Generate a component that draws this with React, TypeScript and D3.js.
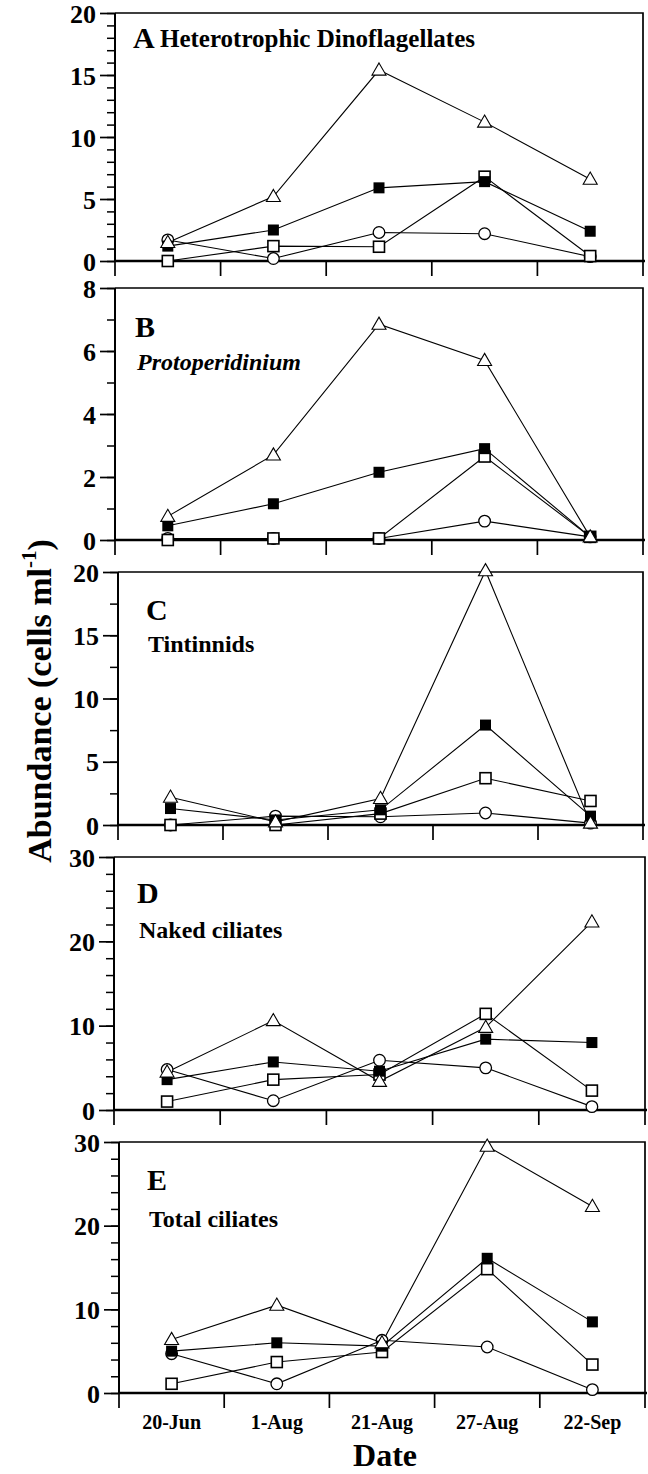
import React, { useEffect, useRef } from 'react';
import * as d3 from 'd3';

const dates = ['20-Jun', '1-Aug', '21-Aug', '27-Aug', '22-Sep'];

// A  heterotrophic dinoflagellates
const triA = [1.5, 5.2, 15.4, 11.2, 6.6];
const fillA = [1.2, 2.5, 5.9, 6.4, 2.4];
const openA = [0, 1.2, 1.15, 6.8, 0.4];
const circA = [1.7, 0.2, 2.3, 2.2, 0.35];

// B  Protoperidinium
const triB = [0.75, 2.7, 6.85, 5.7, 0.1];
const fillB = [0.45, 1.15, 2.15, 2.9, 0.1];
const openB = [0, 0.05, 0.05, 2.65, 0.1];
const circB = [0.05, 0.05, 0.05, 0.6, 0.1];

// C  tintinnids
const triC = [2.2, 0.25, 2.1, 20.1, 0.15];
const fillC = [1.3, 0.4, 1.2, 7.9, 0.7];
const openC = [0, 0, 0.9, 3.7, 1.9];
const circC = [0, 0.7, 0.65, 0.95, 0.15];

// D  naked ciliates
const triD = [4.5, 10.6, 3.4, 9.8, 22.3];
const fillD = [3.6, 5.7, 4.6, 8.4, 8.0];
const openD = [1.0, 3.6, 4.2, 11.4, 2.3];
const circD = [4.8, 1.1, 5.9, 5.0, 0.4];

// E  total ciliates
const triE = [6.4, 10.5, 6.0, 29.5, 22.3];
const fillE = [5.0, 6.0, 5.6, 16.1, 8.5];
const openE = [1.1, 3.7, 4.9, 14.8, 3.4];
const circE = [4.7, 1.1, 6.3, 5.5, 0.4];

const yMaxes = [20, 8, 20, 30, 30];
const yMajor = [5, 2, 5, 10, 10];
const yMinor = [1, 1, 2.5, 2, 2];
const letters = ['A', 'B', 'C', 'D', 'E'];
const titles = ['Heterotrophic Dinoflagellates', 'Protoperidinium', 'Tintinnids', 'Naked ciliates', 'Total ciliates'];

const W = 648;
const H = 1474;
const FONT = 'Liberation Serif, Times New Roman, serif';

// panel frames: [left, right, top, bottom]
const frames = [
	[115, 643, 13, 261],
	[115, 643, 288, 540],
	[118, 643, 572, 825],
	[114, 645, 857, 1110],
	[119, 645, 1142, 1393]
];
// label offsets from frame: [letter dx, letter dy, title dx, title dy]
const labelPos = [
	[18, 35, 45, 34],
	[20, 49, 22, 82],
	[28, 48, 30, 80],
	[23, 46, 25, 81],
	[28, 48, 30, 85]
];

const drawChart = (svgEl) => {
	const svg = d3.select(svgEl);
	svg.selectAll('*').remove();

	const panels = [
		[triA, fillA, openA, circA],
		[triB, fillB, openB, circB],
		[triC, fillC, openC, circC],
		[triD, fillD, openD, circD],
		[triE, fillE, openE, circE]
	];

	panels.forEach((series, i) => {
		const [l, r, t, b] = frames[i];
		const x = d3.scaleBand().domain(dates).range([l, r]).padding(0);
		const y = d3.scaleLinear().domain([0, yMaxes[i]]).range([b, t]);
		const g = svg.append('g');

		// box
		g.append('path')
			.attr('d', `M${ l },${ t }H${ r }V${ b }`)
			.attr('fill', 'none').attr('stroke', '#000').attr('stroke-width', 1.7);

		// y axis, minor ticks then major
		const minor = d3.range(0, yMaxes[i] + 0.001, yMinor[i]);
		const yMinorAxis = d3.axisLeft(y).tickValues(minor).tickSize(8).tickFormat(() => '');
		g.append('g').attr('transform', `translate(${ l },0)`).call(yMinorAxis)
			.call((s) => s.select('.domain').remove())
			.selectAll('line').attr('stroke-width', 1.5);
		const major = d3.range(0, yMaxes[i] + 0.001, yMajor[i]);
		const yAxis = d3.axisLeft(y).tickValues(major).tickSize(15).tickPadding(4).tickFormat(d3.format('d'));
		const ya = g.append('g').attr('transform', `translate(${ l },0)`).call(yAxis)
			.attr('font-family', FONT).attr('font-size', 26);
		ya.select('.domain').attr('d', `M0,${ b }V${ t }`).attr('stroke-width', 2);
		ya.selectAll('line').attr('stroke-width', 1.7);
		ya.selectAll('text')
			.style('font-family', FONT).style('font-weight', 'bold').style('font-size', '26px')
			.attr('fill', '#000').attr('dy', '0.35em');

		// x axis: ticks at band edges
		const xa = g.append('g').attr('transform', `translate(0,${ b })`);
		xa.append('line').attr('x1', l).attr('x2', r + 2).attr('y1', 0).attr('y2', 0)
			.attr('stroke', '#000').attr('stroke-width', 2.6);
		const edges = dates.map((d) => x(d)).concat([r]);
		xa.selectAll('line.tick').data(edges).enter()
			.append('line').attr('class', 'tick')
			.attr('x1', (d) => d).attr('x2', (d) => d)
			.attr('y1', 0).attr('y2', 15)
			.attr('stroke', '#000').attr('stroke-width', 1.7);
		if (i === 4) {
			xa.selectAll('text').data(dates).enter()
				.append('text')
				.attr('x', (d) => x(d) + x.bandwidth() / 2)
				.attr('y', 36)
				.attr('text-anchor', 'middle')
				.style('font-family', FONT).style('font-weight', 'bold').style('font-size', '20px')
				.text((d) => d);
		}

		// labels
		const [ldx, ldy, tdx, tdy] = labelPos[i];
		g.append('text').attr('x', l + ldx).attr('y', t + ldy)
			.style('font-family', FONT).style('font-weight', 'bold').style('font-size', '30px')
			.text(letters[i]);
		g.append('text')
			.attr('x', l + tdx)
			.attr('y', t + tdy)
			.style('font-family', FONT).style('font-weight', 'bold')
			.style('font-size', i === 0 ? '25px' : '24px')
			.style('font-style', i === 1 ? 'italic' : 'normal')
			.text(titles[i]);

		// lines
		const cx = (j) => x(dates[j]) + x.bandwidth() / 2;
		const line = d3.line().x((d, j) => cx(j)).y((d) => y(d));
		series.forEach((vals) => {
			g.append('path').attr('d', line(vals))
				.attr('fill', 'none').attr('stroke', '#000').attr('stroke-width', 1.1);
		});

		// markers: triangle, filled square, open square, circle
		const [tri, fill, open, circ] = series;
		g.selectAll('circle.c').data(circ).enter().append('circle')
			.attr('cx', (d, j) => cx(j)).attr('cy', (d) => y(d)).attr('r', 5.8)
			.attr('fill', '#fff').attr('stroke', '#000').attr('stroke-width', 1.3);
		g.selectAll('rect.o').data(open).enter().append('rect')
			.attr('x', (d, j) => cx(j) - 5.5).attr('y', (d) => y(d) - 5.5)
			.attr('width', 11).attr('height', 11)
			.attr('fill', '#fff').attr('stroke', '#000').attr('stroke-width', 1.6);
		g.selectAll('rect.f').data(fill).enter().append('rect')
			.attr('x', (d, j) => cx(j) - 5.5).attr('y', (d) => y(d) - 5.5)
			.attr('width', 11).attr('height', 11)
			.attr('fill', '#000');
		const triPath = d3.symbol().type(d3.symbolTriangle).size(85);
		g.selectAll('path.t').data(tri).enter().append('path')
			.attr('d', triPath())
			.attr('transform', (d, j) => `translate(${ cx(j) },${ y(d) + 1 })`)
			.attr('fill', '#fff').attr('stroke', '#000').attr('stroke-width', 1.1);
	});

	// axis titles
	svg.append('text').attr('x', 385).attr('y', 1466).attr('text-anchor', 'middle')
		.style('font-family', FONT).style('font-weight', 'bold').style('font-size', '32px')
		.text('Date');
	const yt = svg.append('text')
		.attr('transform', 'translate(51,701) rotate(-90)')
		.attr('text-anchor', 'middle')
		.style('font-family', FONT).style('font-weight', 'bold').style('font-size', '34px');
	yt.append('tspan').text('Abundance  (cells ml');
	yt.append('tspan').attr('dy', -15).style('font-size', '21px').text('-1');
	yt.append('tspan').attr('dy', 15).text(')');
};

const App = () => {
	const ref = useRef(null);

	useEffect(() => drawChart(ref.current), []);

	return (
		<svg ref={ ref } width={ W } height={ H }
			style={ { position: 'absolute', left: 0, top: 0, background: '#fff' } }/>
	);
};

export default App;
